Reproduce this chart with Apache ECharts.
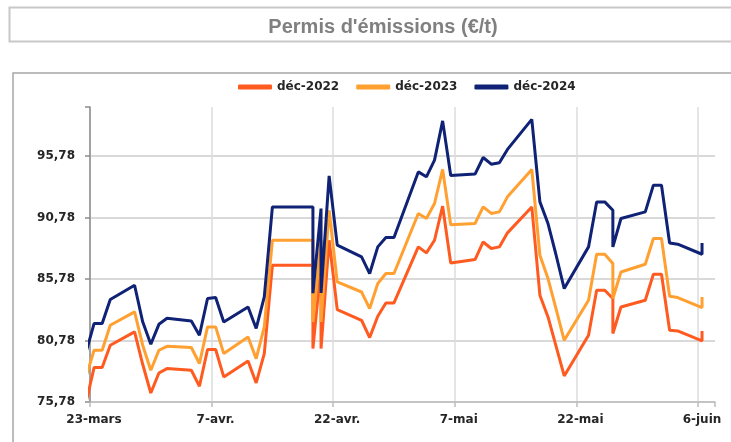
<!DOCTYPE html>
<html>
<head>
<meta charset="utf-8">
<script src="https://cdn.jsdelivr.net/npm/echarts@6/dist/echarts.min.js"></script>
<style>
html,body{margin:0;padding:0;background:#fff}
#chart{width:731px;height:442px}
</style>
</head>
<body>
<div id="chart"></div>
<script>
// dates de cotation (une date répétée = deux relevés le même jour)
var dates = [
  '2022-03-22','2022-03-23','2022-03-24','2022-03-25','2022-03-28','2022-03-29','2022-03-30','2022-03-31',
  '2022-04-01','2022-04-04','2022-04-05','2022-04-06','2022-04-07','2022-04-08','2022-04-11','2022-04-12',
  '2022-04-13','2022-04-14','2022-04-19','2022-04-19','2022-04-20','2022-04-20','2022-04-21','2022-04-22',
  '2022-04-25','2022-04-26','2022-04-27','2022-04-28','2022-04-29','2022-05-02','2022-05-03','2022-05-04',
  '2022-05-05','2022-05-06','2022-05-09','2022-05-10','2022-05-11','2022-05-12','2022-05-13','2022-05-16',
  '2022-05-17','2022-05-18','2022-05-19','2022-05-20','2022-05-23','2022-05-24','2022-05-25','2022-05-26',
  '2022-05-26','2022-05-27','2022-05-30','2022-05-31','2022-06-01','2022-06-02','2022-06-03','2022-06-06',
  '2022-06-06'
];
var dec2022 = [
  75.70,78.58,78.58,80.40,81.48,78.85,76.51,78.14,
  78.50,78.36,77.06,80.05,80.05,77.82,79.12,77.33,
  79.72,86.91,86.91,80.13,86.91,80.13,88.94,83.30,
  82.43,81.02,82.76,83.84,83.84,88.40,87.91,88.94,
  91.71,87.08,87.37,88.80,88.27,88.40,89.54,91.65,
  84.47,82.70,80.31,77.90,81.21,84.87,84.87,84.20,
  81.35,83.51,84.06,86.17,86.17,81.62,81.56,80.75,
  81.56
];
var dec2023 = [
  77.80,79.99,79.99,82.02,83.11,80.40,78.36,79.99,
  80.31,80.21,78.91,81.89,81.89,79.72,81.07,79.31,
  81.89,88.94,88.94,82.29,88.94,82.29,91.37,85.55,
  84.73,83.38,85.42,86.23,86.23,91.12,90.71,91.93,
  94.70,90.20,90.30,91.65,91.12,91.25,92.47,94.70,
  87.72,85.82,83.33,80.80,84.06,87.80,87.80,87.05,
  84.20,86.36,86.99,89.08,89.08,84.38,84.28,83.46,
  84.33
];
var dec2024 = [
  79.80,82.16,82.16,84.12,85.28,82.30,80.48,82.10,
  82.59,82.37,81.21,84.20,84.28,82.29,83.51,81.76,
  84.33,91.65,91.65,84.63,91.52,84.65,94.18,88.54,
  87.58,86.23,88.40,89.16,89.16,94.50,94.10,95.46,
  98.65,94.20,94.32,95.67,95.13,95.24,96.33,98.77,
  92.06,90.30,87.72,85.01,88.40,92.06,92.06,91.38,
  88.40,90.71,91.25,93.42,93.42,88.72,88.62,87.80,
  88.72
];
var xLabels = ['23-mars','7-avr.','22-avr.','7-mai','22-mai','6-juin'];

var start = Date.UTC(2022, 2, 23);
// position en jours depuis le 23-mars, point centré dans sa journée
function dayPos(s) {
  var p = s.split('-');
  return (Date.UTC(+p[0], p[1] - 1, +p[2]) - start) / 864e5 + 0.5;
}
function pairs(vals) {
  return vals.map(function (v, i) { return [dayPos(dates[i]), v]; });
}

var font = 'DejaVu Sans';
var lbl = {fontFamily: font, fontWeight: 'bold', fontSize: 12, color: '#262626'};
var chart = echarts.init(document.getElementById('chart'));

chart.setOption({
  animation: false,
  title: {
    text: "Permis d'émissions (€/t)",
    left: 378, top: 12, textAlign: 'center',
    textStyle: {fontFamily: 'Liberation Sans', fontWeight: 'bold', fontSize: 20, color: '#808080'}
  },
  graphic: [
    {type: 'rect', shape: {x: 9.5, y: 7.5, width: 760, height: 34},
     style: {fill: 'none', stroke: '#c8c8c8', lineWidth: 2}, silent: true},
    {type: 'rect', shape: {x: 13, y: 73, width: 760, height: 420},
     style: {fill: 'none', stroke: '#a6a6a6', lineWidth: 1.5}, silent: true}
  ],
  legend: {
    left: 238, top: 81, padding: 0,
    icon: 'roundRect',
    itemWidth: 34, itemHeight: 5, itemGap: 17,
    textStyle: lbl,
    data: ['déc-2022', 'déc-2023', 'déc-2024']
  },
  grid: {left: 90, top: 107, right: 16, bottom: 40},
  xAxis: {
    type: 'value', min: 0, max: 77.1, interval: 15,
    axisLine: {show: true, lineStyle: {color: '#bdbdbd', width: 1.5}},
    axisTick: {show: true, length: 5, lineStyle: {color: '#bdbdbd', width: 1.5}},
    splitLine: {show: true, lineStyle: {color: ['#dcdcdc','#dcdcdc','#dcdcdc','#dcdcdc','#dcdcdc','#dcdcdc','rgba(0,0,0,0)'], width: 1.5}},
    axisLabel: Object.assign({}, lbl, {
      margin: 12, padding: [0, 0, 0, 8],
      formatter: function (v) {
        var k = v / 15;
        return Math.abs(k - Math.round(k)) < 1e-6 ? (xLabels[Math.round(k)] || '') : '';
      }
    })
  },
  yAxis: {
    type: 'value', min: 75.78, max: 99.78, interval: 5,
    axisLine: {show: true, lineStyle: {color: '#8c8c8c', width: 1.5}},
    axisTick: {show: true, length: 5, lineStyle: {color: '#8c8c8c', width: 1.5}},
    splitLine: {show: true, lineStyle: {color: ['#cccccc','#cccccc','#cccccc','#cccccc','#cccccc','rgba(0,0,0,0)'], width: 1.5}},
    axisLabel: Object.assign({}, lbl, {
      margin: 15,
      formatter: function (v) { return v > 99 ? '' : v.toFixed(2).replace('.', ','); }
    })
  },
  series: [
    {name: 'déc-2022', type: 'line', symbol: 'none', data: pairs(dec2022),
     lineStyle: {width: 3, color: '#ff5a1f'}, itemStyle: {color: '#ff5a1f'}},
    {name: 'déc-2023', type: 'line', symbol: 'none', data: pairs(dec2023),
     lineStyle: {width: 3, color: '#ffa031'}, itemStyle: {color: '#ffa031'}},
    {name: 'déc-2024', type: 'line', symbol: 'none', data: pairs(dec2024),
     lineStyle: {width: 3, color: '#0f2275'}, itemStyle: {color: '#0f2275'}}
  ]
});
</script>
</body>
</html>
